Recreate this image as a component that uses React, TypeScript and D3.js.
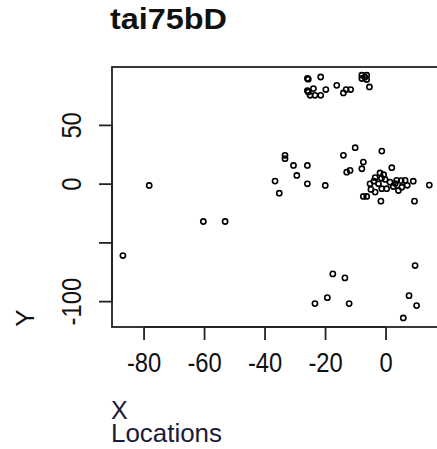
import React, { useEffect, useRef } from "react";
import * as d3 from "d3";

const title = "tai75bD";
const xLabel = "X";
const subLabel = "Locations";
const yLabel = "Y";
const xTicks = [-80, -60, -40, -20, 0];
const yTicks = [50, 0, -50, -100];
const yTickLabels = ["50", "0", "", "-100"];

const xs = [
  // top cluster
  -26.0, -25.7, -21.6, -24.0, -25.7, -26.0, -25.1, -23.5, -21.6, -19.9,
  -16.3, -14.1, -13.2, -11.7, -8.0, -6.4, -8.0, -6.4, -7.0, -5.5,
  // middle cluster
  -33.4, -33.4, -30.6, -26.0, -29.5, -36.7, -26.0, -20.1, -35.3, -14.1,
  -10.2, -1.4, -7.5, -8.0, -13.0, -11.9, 1.9,
  // dense cluster
  -2.0, -0.8, -3.6, -1.5, -0.3, -5.3, -2.5, -4.0, 1.3, 3.5,
  5.0, 6.3, 2.4, 5.2, 4.1, 0.2, -1.4, -3.6, -5.0, 9.0,
  14.3, -6.4, -7.5, -1.7, 9.4, 7.0, 3.0,
  // bottom
  -17.6, -13.6, -19.4, -23.5, -12.2, 9.6, 7.6, 10.1, 5.7,
  // outliers
  -87.0, -78.3, -60.4, -53.2,
];
const ys = [
  89.9, 89.3, 91.2, 81.3, 78.4, 79.5, 75.6, 75.6, 75.6, 80.5,
  84.1, 77.6, 80.5, 80.5, 92.7, 92.7, 89.9, 89.0, 91.0, 82.7,
  24.5, 21.7, 15.9, 15.9, 7.4, 2.6, 0.3, -1.1, -7.7, 24.5,
  31.0, 28.1, 18.8, 13.1, 10.2, 11.7, 14.0,
  9.5, 8.0, 5.5, 5.0, 4.0, 0.3, 0.3, 2.5, 1.7, 3.2,
  3.0, 3.2, -2.0, -2.6, -5.4, -3.9, -3.9, -6.8, -4.5, 2.5,
  -0.8, -10.5, -10.5, -14.5, -14.5, -1.0, 0.5,
  -76.4, -79.8, -96.6, -101.7, -101.7, -69.3, -94.9, -103.4, -113.9,
  -60.8, -1.1, -31.8, -31.8,
];

const W = 437;
const H = 449;
const xDomain = [-90.6, 18.5];
const yDomain = [-121.6, 99.7];

export default function App() {
  const ref = useRef<SVGSVGElement>(null);
  useEffect(() => {
    const svg = d3.select(ref.current);
    svg.selectAll("*").remove();
    const x = d3.scaleLinear().domain(xDomain).range([112, 442]);
    const y = d3.scaleLinear().domain(yDomain).range([327, 67]);
    const font = "'Liberation Sans', Arial, sans-serif";
    const ink = "#111";

    svg.append("rect").attr("width", W).attr("height", H).attr("fill", "white");

    // points
    svg
      .append("g")
      .selectAll("circle")
      .data(xs.map((v, i) => [v, ys[i]]))
      .join("circle")
      .attr("cx", (d) => x(d[0]))
      .attr("cy", (d) => y(d[1]))
      .attr("r", 2.6)
      .attr("fill", "none")
      .attr("stroke", "black")
      .attr("stroke-width", 1.6);

    // box
    svg
      .append("rect")
      .attr("x", x(xDomain[0]))
      .attr("y", y(yDomain[1]))
      .attr("width", x(xDomain[1]) - x(xDomain[0]))
      .attr("height", y(yDomain[0]) - y(yDomain[1]))
      .attr("fill", "none")
      .attr("stroke", "#222")
      .attr("stroke-width", 1.8);

    // x axis
    const xa = svg.append("g").attr("transform", `translate(0,${y(yDomain[0])})`);
    xa.append("line")
      .attr("x1", x(xTicks[0]))
      .attr("x2", x(xTicks[xTicks.length - 1]))
      .attr("stroke", "#222")
      .attr("stroke-width", 1.8);
    xTicks.forEach((t) => {
      xa.append("line")
        .attr("x1", x(t))
        .attr("x2", x(t))
        .attr("y1", 0)
        .attr("y2", 13)
        .attr("stroke", "#222")
        .attr("stroke-width", 1.8);
      xa.append("text")
        .attr("transform", `translate(${x(t)},44.5) scale(0.88,1)`)
        .attr("text-anchor", "middle")
        .attr("font-family", font)
        .attr("font-size", 27)
        .attr("fill", ink)
        .text(String(t));
    });

    // y axis
    const ya = svg.append("g").attr("transform", `translate(${x(xDomain[0])},0)`);
    ya.append("line")
      .attr("y1", y(yTicks[0]))
      .attr("y2", y(yTicks[yTicks.length - 1]))
      .attr("stroke", "#222")
      .attr("stroke-width", 1.8);
    yTicks.forEach((t, i) => {
      ya.append("line")
        .attr("x1", 0)
        .attr("x2", -13)
        .attr("y1", y(t))
        .attr("y2", y(t))
        .attr("stroke", "#222")
        .attr("stroke-width", 1.8);
      if (yTickLabels[i]) {
        ya.append("text")
          .attr("transform", `translate(-31.5,${y(t)}) rotate(-90) scale(0.88,1)`)
          .attr("text-anchor", "middle")
          .attr("font-family", font)
          .attr("font-size", 27)
          .attr("fill", ink)
          .text(yTickLabels[i]);
      }
    });

    // titles
    svg
      .append("text")
      .attr("x", 110)
      .attr("y", 29)
      .attr("font-family", font)
      .attr("font-weight", "bold")
      .attr("font-size", 29)
      .attr("textLength", 117)
      .attr("lengthAdjust", "spacingAndGlyphs")
      .attr("fill", ink)
      .text(title);

    svg
      .append("text")
      .attr("x", 111)
      .attr("y", 419)
      .attr("font-family", font)
      .attr("font-size", 25)
      .attr("fill", "#1a1a3a")
      .text(xLabel);
    svg
      .append("text")
      .attr("x", 111)
      .attr("y", 441.5)
      .attr("font-family", font)
      .attr("font-size", 25)
      .attr("textLength", 111)
      .attr("lengthAdjust", "spacingAndGlyphs")
      .attr("fill", "#1a1a3a")
      .text(subLabel);

    svg
      .append("text")
      .attr("transform", `translate(34,318) rotate(-90)`)
      .attr("text-anchor", "middle")
      .attr("font-family", font)
      .attr("font-size", 26)
      .attr("fill", ink)
      .text(yLabel);
  }, []);

  return (
    <div style={{ position: "absolute", left: 0, top: 0 }}>
      <svg ref={ref} width={W} height={H} style={{ display: "block" }} />
    </div>
  );
}
